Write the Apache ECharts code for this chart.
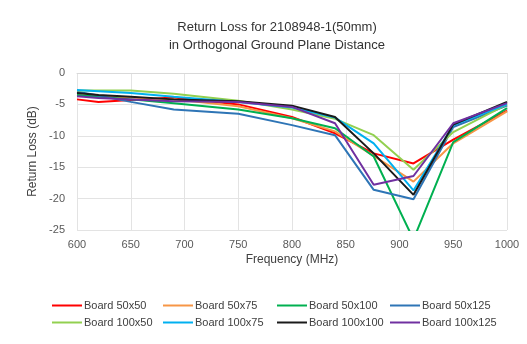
<!DOCTYPE html>
<html><head><meta charset="utf-8">
<script src="https://cdn.jsdelivr.net/npm/echarts@6/dist/echarts.min.js"></script>
<style>html,body{margin:0;padding:0;background:#fff;}#c{width:527px;height:344px;}</style>
</head><body><div id="c"></div>
<script>
const freqs = [600, 620, 650, 690, 750, 800, 840, 876, 913, 950, 1000];
const seriesNames = ['Board 50x50','Board 50x75','Board 50x100','Board 50x125','Board 100x50','Board 100x75','Board 100x100','Board 100x125'];
const board50x50   = [-4.2, -4.6, -4.3, -3.9, -5.0, -7.0, -9.6, -12.8, -14.4, -10.6, -6.0];
const board50x75   = [-3.6, -3.8, -3.9, -4.2, -5.3, -7.2, -9.3, -13.2, -17.3, -11.2, -6.1];
const board50x100  = [-3.5, -3.8, -4.2, -4.8, -5.8, -7.2, -8.8, -13.3, -26.5, -11.0, -5.6];
const board50x125  = [-3.0, -3.6, -4.6, -5.8, -6.5, -8.3, -9.9, -18.6, -20.1, -8.6, -5.2];
const board100x50  = [-2.8, -2.8, -2.8, -3.3, -4.4, -5.8, -7.3, -9.9, -15.4, -9.4, -5.0];
const board100x75  = [-2.7, -2.9, -3.2, -3.8, -4.6, -5.5, -7.1, -11.2, -18.7, -8.3, -5.0];
const board100x100 = [-3.2, -3.5, -3.8, -4.2, -4.5, -5.2, -7.0, -12.8, -19.4, -8.2, -4.6];
const board100x125 = [-3.7, -4.0, -4.2, -4.5, -4.6, -5.4, -8.0, -17.8, -16.4, -8.0, -4.8];
const allValues = [board50x50, board50x75, board50x100, board50x125, board100x50, board100x75, board100x100, board100x125];
const colors = ['#ff0000','#f79646','#00b050','#2e75b6','#92d050','#00b0f0','#1a1a1a','#7030a0'];

const chart = echarts.init(document.getElementById('c'));
const font = 'Liberation Sans, Arial, sans-serif';
const series = seriesNames.map((n, i) => ({
  name: n, type: 'line', showSymbol: false, symbol: 'none',
  lineStyle: { width: 2, color: colors[i] }, itemStyle: { color: colors[i] },
  data: freqs.map((f, j) => [f, allValues[i][j]]),
  clip: true
}));
const legendCols = [47, 158, 272, 385];
const legends = legendCols.map((l, c) => ({
  left: l, top: 295, orient: 'vertical', itemGap: 6, itemWidth: 30, itemHeight: 10,
  data: [seriesNames[c], seriesNames[c + 4]].map(n => ({ name: n, icon: 'path://M0,4 L30,4 L30,6 L0,6 Z' })),
  textStyle: { fontSize: 11, color: '#404040', fontFamily: font, padding: [0, 0, 0, -3] }
}));
chart.setOption({
  animation: false,
  color: colors,
  title: {
    text: 'Return Loss for 2108948-1(50mm)\nin Orthogonal Ground Plane Distance',
    left: 272, textAlign: 'center', top: 13,
    textStyle: { fontSize: 13, fontWeight: 'normal', color: '#333', fontFamily: font, lineHeight: 18 }
  },
  legend: legends,
  grid: { left: 77, right: 20, top: 73, bottom: 114 },
  xAxis: {
    type: 'value', min: 600, max: 1000, interval: 50,
    name: 'Frequency (MHz)', nameLocation: 'middle', nameGap: 24,
    nameTextStyle: { fontSize: 12, color: '#404040', fontFamily: font },
    axisLine: { show: true, lineStyle: { color: '#d9d9d9' } },
    axisTick: { show: false },
    axisLabel: { fontSize: 11, color: '#595959', fontFamily: font, margin: 9, formatter: v => String(v) },
    splitLine: { show: true, lineStyle: { color: '#e3e3e3' } }
  },
  yAxis: {
    type: 'value', min: -25, max: 0, interval: 5,
    name: 'Return Loss (dB)', nameLocation: 'middle', nameGap: 36, nameRotate: 90,
    nameTextStyle: { fontSize: 12, color: '#404040', fontFamily: font },
    axisLine: { show: false }, axisTick: { show: false },
    axisLabel: { fontSize: 11, color: '#595959', fontFamily: font, margin: 12 },
    splitLine: { show: true, lineStyle: { color: '#e3e3e3' } }
  },
  series: series
});
</script></body></html>
